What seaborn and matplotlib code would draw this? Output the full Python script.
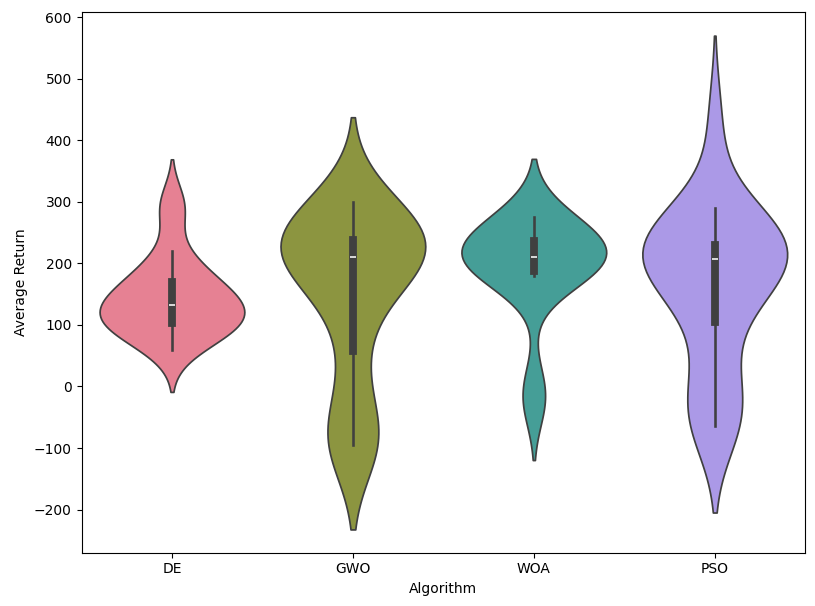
import pandas as pd
import matplotlib
matplotlib.use('Agg')
import matplotlib.pyplot as plt
import seaborn as sns

# average return per run, estimated from the reference violins
algorithms = ['DE', 'GWO', 'WOA', 'PSO']
de_returns = [60, 75, 85, 92, 98, 103, 108, 113, 118, 124, 132,
              138, 145, 152, 160, 170, 180, 195, 220, 285, 300]
gwo_returns = [-95, -92, -88, -83, -76, -68, 35, 57, 120, 160, 180, 192, 200, 205,
               210, 214, 218, 222, 226, 230, 234, 238, 245, 252, 260, 268, 278, 288, 300]
woa_returns = [-25, -5, 180, 184, 188, 195, 200, 205, 210,
               215, 220, 228, 237, 248, 258, 266, 275]
pso_returns = [-65, -52, -40, -28, 30, 105, 140, 165, 185, 198, 207,
               212, 216, 220, 225, 230, 240, 252, 268, 290, 430]
y_ticks = [-200, -100, 0, 100, 200, 300, 400, 500, 600]

df = pd.DataFrame({
    'Algorithm': ['DE'] * len(de_returns) + ['GWO'] * len(gwo_returns)
                 + ['WOA'] * len(woa_returns) + ['PSO'] * len(pso_returns),
    'Average Return': de_returns + gwo_returns + woa_returns + pso_returns,
})

fig, ax = plt.subplots(figsize=(8.15, 6.06), dpi=100)
sns.violinplot(x='Algorithm', y='Average Return', data=df, order=algorithms,
               hue='Algorithm', hue_order=algorithms, palette='husl',
               legend=False, ax=ax)
ax.set_yticks(y_ticks)
ax.set_ylim(-270, 608)
ax.set_xlabel('Algorithm')
ax.set_ylabel('Average Return')
plt.subplots_adjust(left=0.1, right=0.988, top=0.98, bottom=0.088)
plt.savefig('out.png')
